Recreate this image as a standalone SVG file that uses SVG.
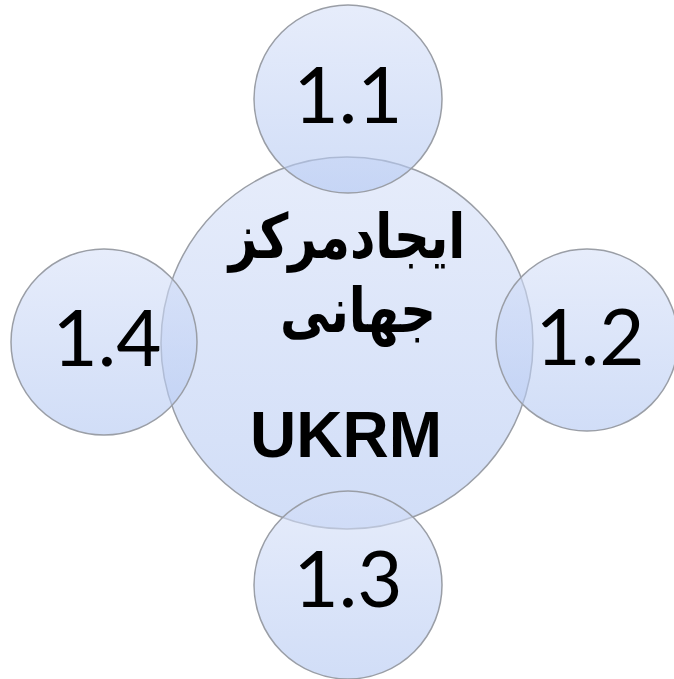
<svg xmlns="http://www.w3.org/2000/svg" width="674" height="679" viewBox="0 0 674 679">
<defs>
<linearGradient id="g" x1="0" y1="0" x2="0" y2="1">
<stop offset="0" stop-color="#d6e0f8"/>
<stop offset="1" stop-color="#b2c7f2"/>
</linearGradient>
<style>
.c{fill:url(#g);fill-opacity:0.6;stroke:#9a9ea6;stroke-width:1.5}
.n{font-family:Lato,"DejaVu Sans",sans-serif;font-size:78px;fill:#000;text-anchor:middle}
.b{font-family:"DejaVu Sans","Liberation Sans",sans-serif;font-weight:bold;fill:#000;text-anchor:middle}
</style>
</defs>
<rect width="674" height="679" fill="#fff"/>
<g id="connectors"/>
<g id="center">
<circle class="c" cx="347" cy="343" r="186"/>
<text class="b" x="0" y="0" font-size="62" transform="translate(347,258) scale(0.8,1)">ایجادمرکز</text>
<text class="b" x="0" y="0" font-size="62" transform="translate(358,332) scale(0.8,1)">جهانی</text>
<text class="b" x="346" y="457" font-size="64" style="font-family:'Liberation Sans',sans-serif">UKRM</text>
</g>
<g id="n11">
<circle class="c" cx="348" cy="99" r="94"/>
<text class="n" x="348" y="123">1.1</text>
</g>
<g id="n12">
<circle class="c" cx="587" cy="340" r="91"/>
<text class="n" x="590" y="365">1.2</text>
</g>
<g id="n13">
<circle class="c" cx="348" cy="585" r="94"/>
<text class="n" x="348" y="607">1.3</text>
</g>
<g id="n14">
<circle class="c" cx="104" cy="342" r="93"/>
<text class="n" x="107" y="366">1.4</text>
</g>
</svg>
